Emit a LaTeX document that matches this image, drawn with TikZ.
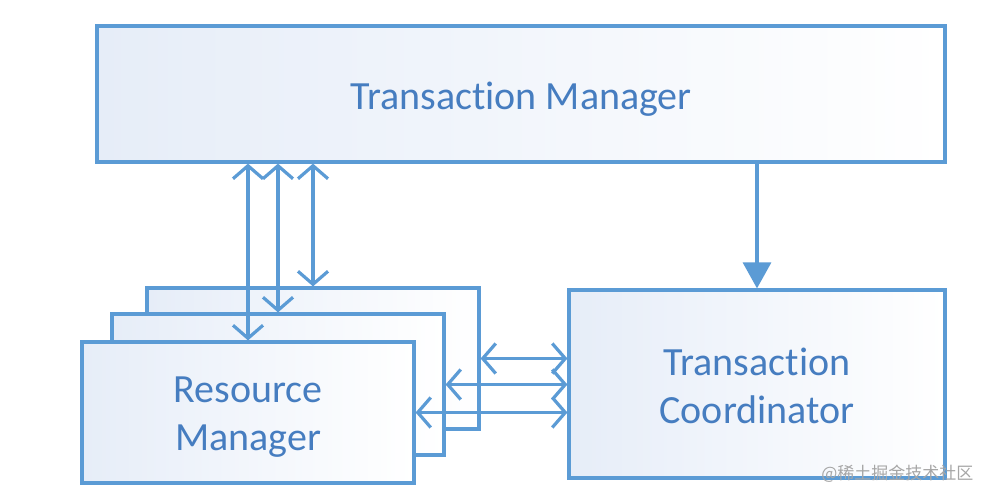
\documentclass[tikz,border=0pt]{standalone}
\usepackage{fontspec}
\setmainfont{Carlito}[Ligatures={NoCommon}]
\newfontfamily\cjkfont{Noto Sans CJK SC}
\usetikzlibrary{arrows.meta,calc}
\definecolor{lineblue}{RGB}{91,155,213}
\definecolor{textblue}{RGB}{70,125,192}
\definecolor{boxleft}{RGB}{230,237,248}
\tikzset{
  box/.style={draw=lineblue, line width=3.2pt, left color=boxleft, right color=white, inner sep=0pt},
  boxtext/.style={text=textblue, font=\fontsize{40}{48}\selectfont, align=center, inner sep=0pt},
  link/.style={draw=lineblue, line width=3.2pt},
  barbs/.style={link, {Straight Barb[length=13pt,width=30pt,line width=3.2pt]}-{Straight Barb[length=13pt,width=30pt,line width=3.2pt]}},
  solidhead/.style={link, -{Triangle[length=26pt,width=28pt]}}
}
\begin{document}
\begin{tikzpicture}[x=1pt,y=-1pt]
\useasboundingbox (0,0) rectangle (988,501);
\fill[white] (0,0) rectangle (988,501);
\node[box, minimum width=848pt, minimum height=136pt,
  label={[boxtext, yshift=-5pt]center:Transaction Manager}] (tm) at (521,94) {};
\node[box, minimum width=332pt, minimum height=141pt] (rm3) at (313,358.5) {};
\node[box, minimum width=332pt, minimum height=141pt] (rm2) at (278,384.5) {};
\node[box, minimum width=332pt, minimum height=141pt,
  label={[boxtext, yshift=-5pt]center:Resource\\Manager}] (rm1) at (248,412.5) {};
\node[box, minimum width=376pt, minimum height=188pt,
  label={[boxtext, yshift=-2pt]center:Transaction\\Coordinator}] (tc) at (757,384) {};
\draw[barbs] (rm1.north |- tm.south) -- (rm1.north);
\draw[barbs] (rm2.north |- tm.south) -- (rm2.north);
\draw[barbs] (rm3.north |- tm.south) -- (rm3.north);
\draw[barbs] (rm3.east) -- (tc.west |- rm3.east);
\draw[barbs] (rm2.east) -- (tc.west |- rm2.east);
\draw[barbs] (rm1.east) -- (tc.west |- rm1.east);
\draw[solidhead] (tc.north |- tm.south) -- (tc.north);
\node[text=gray!70, font=\cjkfont\fontsize{17}{20}\selectfont, anchor=east] (wm) at (977,474) {@稀土掘金技术社区};
\end{tikzpicture}
\end{document}
